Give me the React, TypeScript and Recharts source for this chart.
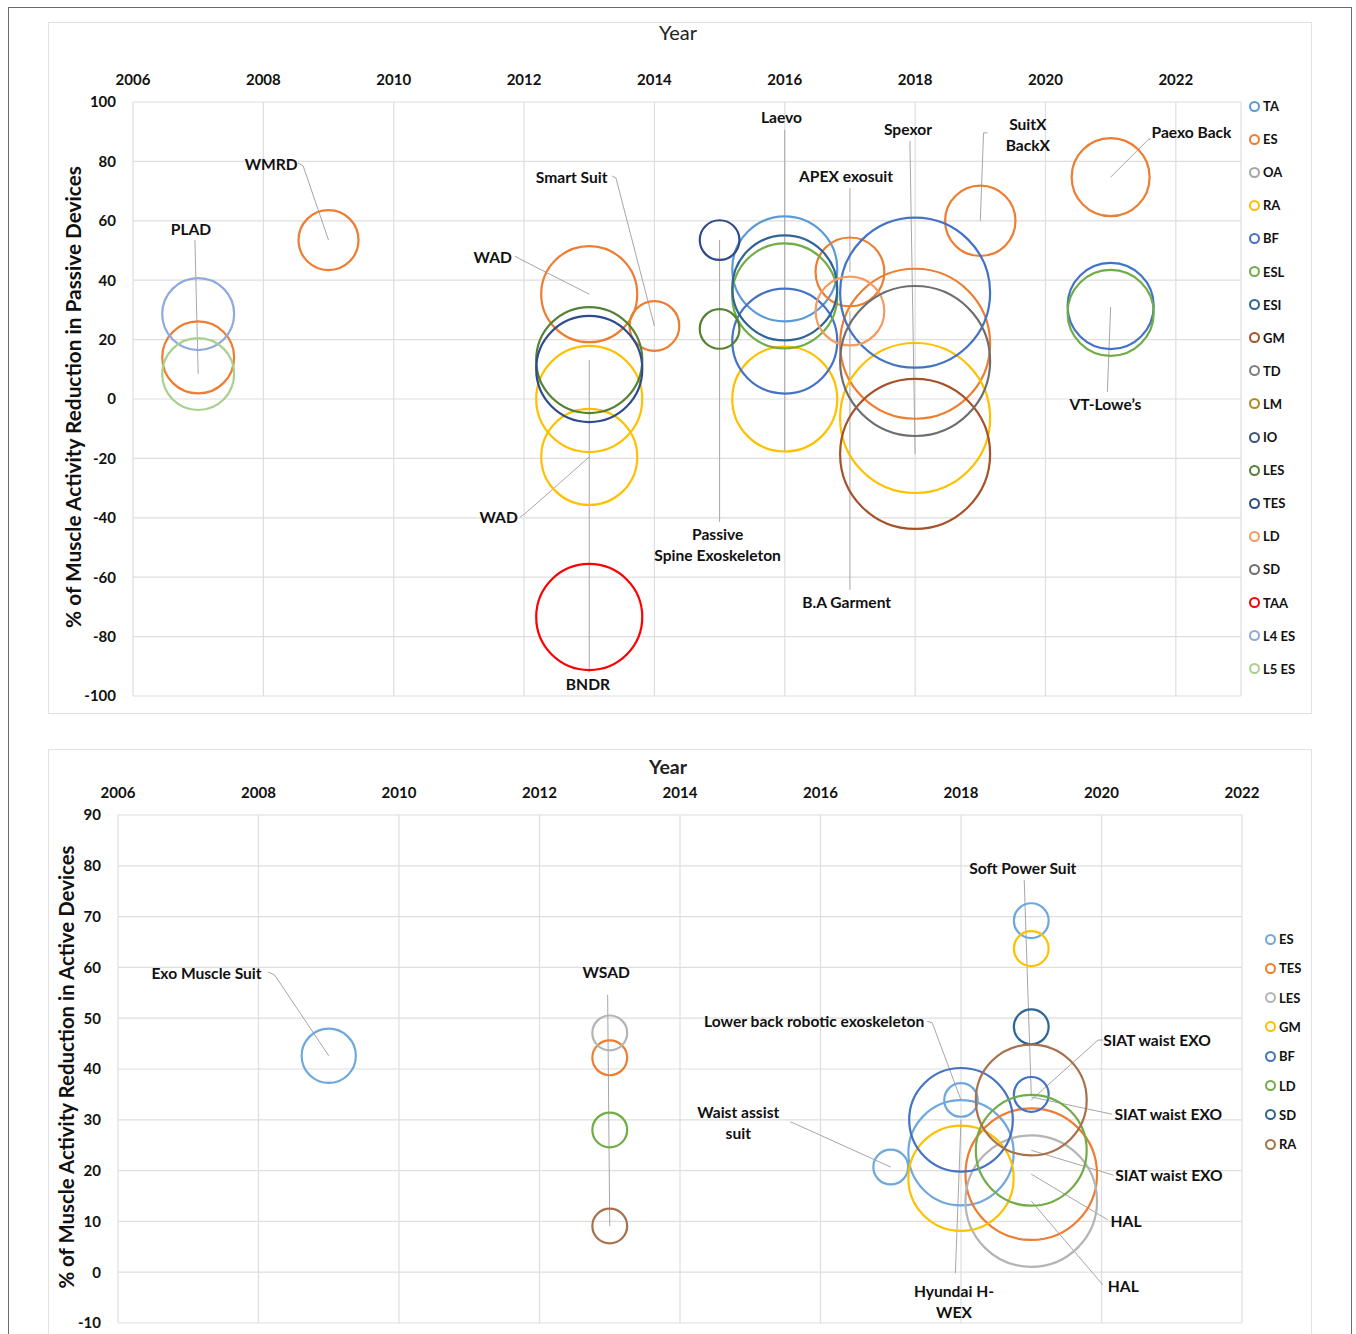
import React from "react";
import { CartesianGrid, Label, ReferenceLine, Scatter, ScatterChart, XAxis, YAxis, ZAxis } from "recharts";

type Pt = [number, number, number]; // [year, % reduction, bubble size]
type Note = { text: string[]; at: [number, number]; path: [number, number][] };

// ---- passive devices (top chart)
const P_TA: Pt[] = [[2016, 43.8, 49]];
const P_ES: Pt[] = [
  [2007, 14, 23],
  [2009, 53.5, 16],
  [2013, 35.3, 41],
  [2014, 24.6, 11],
  [2017, 42.8, 21],
  [2018, 18.6, 100],
  [2019, 60, 22],
  [2021, 74.7, 27],
];
const P_OA: Pt[] = [];
const P_RA: Pt[] = [
  [2013, 0, 50],
  [2013, -19.5, 41],
  [2016, 0, 49],
  [2018, -6.4, 100],
];
const P_BF: Pt[] = [
  [2016, 19.5, 49],
  [2018, 35.8, 100],
  [2021, 31.3, 33],
];
const P_ESL: Pt[] = [
  [2016, 34.7, 49],
  [2021, 29, 33],
];
const P_ESI: Pt[] = [[2016, 37.4, 49]];
const P_GM: Pt[] = [[2018, -18.5, 100]];
const P_TD: Pt[] = [];
const P_LM: Pt[] = [];
const P_IO: Pt[] = [];
const P_LES: Pt[] = [
  [2013, 13.1, 50],
  [2015, 23.6, 7],
];
const P_TES: Pt[] = [
  [2013, 10.1, 50],
  [2015, 53.5, 7],
];
const P_LD: Pt[] = [[2017, 29.6, 21]];
const P_SD: Pt[] = [[2018, 12.8, 100]];
const P_TAA: Pt[] = [[2013, -73.4, 50]];
const P_L4ES: Pt[] = [[2007, 28.6, 23]];
const P_L5ES: Pt[] = [[2007, 8.4, 23]];

const PASSIVE = [
  { name: "TA", color: "#5B9BD5", data: P_TA },
  { name: "ES", color: "#ED7D31", data: P_ES },
  { name: "OA", color: "#A5A5A5", data: P_OA },
  { name: "RA", color: "#FFC000", data: P_RA },
  { name: "BF", color: "#4472C4", data: P_BF },
  { name: "ESL", color: "#70AD47", data: P_ESL },
  { name: "ESI", color: "#2E6496", data: P_ESI },
  { name: "GM", color: "#A5522A", data: P_GM },
  { name: "TD", color: "#7F7F7F", data: P_TD },
  { name: "LM", color: "#B08A1E", data: P_LM },
  { name: "IO", color: "#3B5580", data: P_IO },
  { name: "LES", color: "#548235", data: P_LES },
  { name: "TES", color: "#2F4B8C", data: P_TES },
  { name: "LD", color: "#F29B63", data: P_LD },
  { name: "SD", color: "#6E6E6E", data: P_SD },
  { name: "TAA", color: "#FF0000", data: P_TAA },
  { name: "L4 ES", color: "#8FAADC", data: P_L4ES },
  { name: "L5 ES", color: "#A9D18E", data: P_L5ES },
];

const P_NOTES: Note[] = [
  { text: ["PLAD"], at: [2006.89, 57.2], path: [[2006.95, 53.5], [2007, 8.4]] },
  { text: ["WMRD"], at: [2008.12, 79.1], path: [[2008.53, 79.5], [2008.61, 78.5], [2009, 53.5]] },
  { text: ["Smart Suit"], at: [2012.73, 74.7], path: [[2013.35, 75.1], [2013.41, 74.4], [2014, 24.6]] },
  { text: ["WAD"], at: [2011.52, 47.8], path: [[2011.86, 48.1], [2011.94, 47.1], [2013, 35.3]] },
  { text: ["WAD"], at: [2011.61, -39.7], path: [[2011.94, -39.7], [2012.01, -38.7], [2013, -19.5]] },
  { text: ["BNDR"], at: [2012.98, -96], path: [[2013, -92], [2013, 13.1]] },
  { text: ["Passive", "Spine Exoskeleton"], at: [2014.97, -45.5], path: [[2015, -41.4], [2015, 53.5]] },
  { text: ["Laevo"], at: [2015.95, 94.9], path: [[2016, 90.6], [2016, -17.5]] },
  { text: ["APEX exosuit"], at: [2016.94, 75.1], path: [[2017, 71], [2017, 42.8]] },
  { text: ["B.A Garment"], at: [2016.95, -68.4], path: [[2017, -64.3], [2017, 29.6]] },
  { text: ["Spexor"], at: [2017.89, 90.9], path: [[2017.92, 86.9], [2018, -18.5]] },
  { text: ["SuitX", "BackX"], at: [2019.73, 92.6], path: [[2019.11, 89.6], [2019.05, 89.6], [2019, 60]] },
  { text: ["Paexo Back"], at: [2022.24, 89.9], path: [[2021.62, 87.6], [2021.57, 87.2], [2021, 74.7]] },
  { text: ["VT-Lowe\u2019s"], at: [2020.92, -1.7], path: [[2020.95, 2.4], [2021, 31]] },
];

// ---- active devices (bottom chart)
const A_ES: Pt[] = [
  [2009, 42.6, 17],
  [2017, 20.7, 7],
  [2018, 33.9, 6.5],
  [2018, 23.5, 64],
  [2019, 69.2, 7],
];
const A_TES: Pt[] = [
  [2013, 42.2, 7],
  [2019, 19.3, 100],
];
const A_LES: Pt[] = [
  [2013, 47.1, 7],
  [2019, 14, 100],
];
const A_GM: Pt[] = [
  [2018, 18.5, 64],
  [2019, 63.7, 7],
];
const A_BF: Pt[] = [
  [2018, 30, 62],
  [2019, 35, 7],
];
const A_LD: Pt[] = [
  [2013, 28, 7],
  [2019, 24, 71],
];
const A_SD: Pt[] = [[2019, 48.3, 7]];
const A_RA: Pt[] = [
  [2013, 9.1, 7],
  [2019, 33.9, 71],
];

const ACTIVE = [
  { name: "ES", color: "#6FA8DC", data: A_ES },
  { name: "TES", color: "#ED7D31", data: A_TES },
  { name: "LES", color: "#B4B4B4", data: A_LES },
  { name: "GM", color: "#FFC000", data: A_GM },
  { name: "BF", color: "#4472C4", data: A_BF },
  { name: "LD", color: "#70AD47", data: A_LD },
  { name: "SD", color: "#2E6496", data: A_SD },
  { name: "RA", color: "#A8714C", data: A_RA },
];

const A_NOTES: Note[] = [
  { text: ["Exo Muscle Suit"], at: [2007.26, 58.9], path: [[2008.14, 59.1], [2008.23, 58.5], [2009, 42.6]] },
  { text: ["WSAD"], at: [2012.95, 59.1], path: [[2012.97, 54.6], [2013, 9.1]] },
  { text: ["Lower back robotic exoskeleton"], at: [2015.91, 49.4], path: [[2017.52, 49.4], [2017.59, 49.1], [2018, 33.9]] },
  { text: ["Waist assist", "suit"], at: [2014.83, 31.5], path: [[2015.57, 29.6], [2015.64, 29.2], [2017, 20.7]] },
  { text: ["Soft Power Suit"], at: [2018.88, 79.6], path: [[2018.9, 77.2], [2019, 35]] },
  { text: ["SIAT waist EXO"], at: [2020.79, 45.7], path: [[2020.02, 45.7], [2019.95, 45.7], [2019, 33.9]] },
  { text: ["SIAT waist EXO"], at: [2020.95, 31.1], path: [[2020.15, 31.1], [2019, 34.5]] },
  { text: ["SIAT waist EXO"], at: [2020.96, 19.1], path: [[2020.17, 19.1], [2019, 24]] },
  { text: ["HAL"], at: [2020.35, 10.1], path: [[2020.09, 10.3], [2019, 19.3]] },
  { text: ["HAL"], at: [2020.31, -2.7], path: [[2020.02, -2.5], [2019, 14]] },
  { text: ["Hyundai H-", "WEX"], at: [2017.9, -3.7], path: [[2017.92, -0.2], [2018, 30]] },
];

const P_YEARS = [2006, 2008, 2010, 2012, 2014, 2016, 2018, 2020, 2022];
const P_VALS = [-100, -80, -60, -40, -20, 0, 20, 40, 60, 80, 100];
const A_YEARS = [2006, 2008, 2010, 2012, 2014, 2016, 2018, 2020, 2022];
const A_VALS = [-10, 0, 10, 20, 30, 40, 50, 60, 70, 80, 90];

const FONT = "Lato, 'Open Sans', sans-serif";
const GRID = "#DEDEDE";
const LEADER = "#A6A6A6";

const toRows = (pts: Pt[]) => pts.map(([x, y, z]) => ({ x, y, z }));

const ring = (color: string) => (p: any) => {
  const r = p.size != null ? Math.sqrt(Math.max(p.size, 0) / Math.PI) : (p.width || 0) / 2;
  return <circle cx={p.cx} cy={p.cy} r={r} fill="none" stroke={color} strokeWidth={2.2} />;
};

const noteText = (p: any) => {
  const lines: string[] = p.payload.text;
  return (
    <text x={p.cx} y={p.cy} textAnchor="middle" dominantBaseline="central" fontSize={15.6} fontWeight={700} fill="#111" fontFamily={FONT}>
      {lines.map((l, i) => (
        <tspan key={i} x={p.cx} dy={i === 0 ? 0 : 21}>
          {l}
        </tspan>
      ))}
    </text>
  );
};

const Legendish = ({ items, left, top, step }: { items: { name: string; color: string }[]; left: number; top: number; step: number }) => (
  <div style={{ position: "absolute", left, top, fontFamily: FONT }}>
    {items.map((s, i) => (
      <div key={s.name} style={{ position: "absolute", left: 0, top: i * step - 8, height: 16, display: "flex", alignItems: "center", whiteSpace: "nowrap" }}>
        <span style={{ width: 7, height: 7, border: `2px solid ${s.color}`, borderRadius: "50%", display: "inline-block" }} />
        <span style={{ marginLeft: 3, fontSize: 13, fontWeight: 700, color: "#111" }}>{s.name}</span>
      </div>
    ))}
  </div>
);

const tickStyle = { fill: "#111", fontSize: 15, fontWeight: 700, fontFamily: FONT };

function Panel(props: {
  top: number;
  height: number;
  margin: { top: number; right: number; bottom: number; left: number };
  xDomain: [number, number];
  yDomain: [number, number];
  xTicks: number[];
  yTicks: number[];
  maxR: number;
  series: { name: string; color: string; data: Pt[] }[];
  notes: Note[];
  yearTitle: { dx: number; dy: number; bold: boolean; size: number };
  yTitle: string;
  yTitleDx: number;
  yTitleSize: number;
}) {
  const { margin } = props;
  return (
    <div style={{ position: "absolute", left: 0, top: props.top }}>
      <ScatterChart width={1356} height={props.height} margin={margin}>
        <CartesianGrid stroke={GRID} strokeWidth={1.2} />
        <XAxis
          type="number"
          dataKey="x"
          orientation="top"
          domain={props.xDomain}
          ticks={props.xTicks}
          allowDataOverflow
          height={30}
          tickSize={0}
          tickMargin={17}
          axisLine={false}
          tick={tickStyle}
        >
          <Label
            content={(lp: any) => {
              const vb = lp.viewBox;
              return (
                <text
                  x={vb.x + vb.width / 2 + props.yearTitle.dx}
                  y={vb.y + props.yearTitle.dy}
                  textAnchor="middle"
                  dominantBaseline="central"
                  fontSize={props.yearTitle.size}
                  fontWeight={props.yearTitle.bold ? 700 : 400}
                  fill="#222"
                  fontFamily={FONT}
                >
                  Year
                </text>
              );
            }}
          />
        </XAxis>
        <YAxis
          type="number"
          dataKey="y"
          domain={props.yDomain}
          ticks={props.yTicks}
          allowDataOverflow
          width={50}
          tickSize={0}
          tickMargin={17}
          axisLine={false}
          tick={tickStyle}
        >
          <Label
            content={(lp: any) => {
              const vb = lp.viewBox;
              const cx = vb.x + props.yTitleDx;
              const cy = vb.y + vb.height / 2 - 2;
              return (
                <text
                  x={cx}
                  y={cy}
                  transform={`rotate(-90, ${cx}, ${cy})`}
                  textAnchor="middle"
                  dominantBaseline="central"
                  fontSize={props.yTitleSize}
                  fontWeight={700}
                  fill="#111"
                  fontFamily={FONT}
                >
                  {props.yTitle}
                </text>
              );
            }}
          />
        </YAxis>
        <ZAxis type="number" dataKey="z" domain={[0, 100]} range={[0, Math.PI * props.maxR * props.maxR]} />
        {props.notes.flatMap((n, i) => {
          const pts = [...n.path];
          return pts.slice(1).map((pt, j) => (
            <ReferenceLine
              key={`l${i}-${j}`}
              segment={[
                { x: pts[j][0], y: pts[j][1] },
                { x: pt[0], y: pt[1] },
              ]}
              stroke={LEADER}
              strokeWidth={1}
              ifOverflow="visible"
            />
          ));
        })}
        {props.series.map((s) => (
          <Scatter key={s.name} name={s.name} data={toRows(s.data)} fill={s.color} shape={ring(s.color)} isAnimationActive={false} />
        ))}
        <Scatter
          name="notes"
          legendType="none"
          data={props.notes.map((n) => ({ x: n.at[0], y: n.at[1], text: n.text }))}
          shape={noteText}
          isAnimationActive={false}
        />
      </ScatterChart>
    </div>
  );
}

export default function App() {
  return (
    <div style={{ position: "absolute", left: 0, top: 0, width: 1356, height: 1334, overflow: "hidden", background: "#fff", fontFamily: FONT }}>
      <div style={{ position: "absolute", left: 8, top: 7, width: 1342, height: 1400, border: "1.5px solid #6A6A6A" }} />
      <div style={{ position: "absolute", left: 48, top: 22, width: 1262, height: 690, border: "1px solid #E2E2E2" }} />
      <div style={{ position: "absolute", left: 48, top: 749, width: 1262, height: 640, border: "1px solid #E2E2E2" }} />
      <Panel
        top={0}
        height={720}
        margin={{ top: 72, right: 115, bottom: 24, left: 83 }}
        xDomain={[2006, 2023]}
        yDomain={[-100, 100]}
        xTicks={P_YEARS}
        yTicks={P_VALS}
        maxR={75}
        series={PASSIVE}
        notes={P_NOTES}
        yearTitle={{ dx: -9, dy: -40, bold: false, size: 20 }}
        yTitle="% of Muscle Activity Reduction in Passive Devices"
        yTitleDx={-11}
        yTitleSize={20.8}
      />
      <Panel
        top={730}
        height={620}
        margin={{ top: 55, right: 114, bottom: 27, left: 68 }}
        xDomain={[2006, 2022]}
        yDomain={[-10, 90]}
        xTicks={A_YEARS}
        yTicks={A_VALS}
        maxR={65.8}
        series={ACTIVE}
        notes={A_NOTES}
        yearTitle={{ dx: -12, dy: -19, bold: true, size: 19.5 }}
        yTitle="% of Muscle Activity Reduction in Active Devices"
        yTitleDx={-2}
        yTitleSize={20.4}
      />
      <Legendish items={PASSIVE} left={1249} top={106} step={33.1} />
      <Legendish items={ACTIVE} left={1265} top={939} step={29.3} />
    </div>
  );
}
